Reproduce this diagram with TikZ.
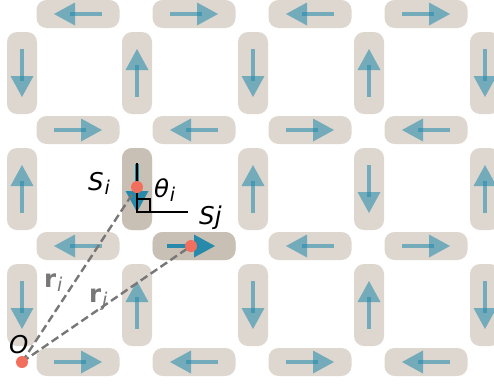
\documentclass[tikz,border=0pt]{standalone}
\usepackage{fontspec}
\newfontfamily\dv{DejaVu Sans}
\definecolor{barc}{HTML}{DDD7D0}
\definecolor{barhi}{HTML}{C9C0B5}
\definecolor{arrc}{HTML}{1F88AB}
\definecolor{dotc}{HTML}{F26F5E}
\definecolor{dashc}{HTML}{777777}
\tikzset{
  hbar/.style={rectangle, rounded corners=10pt, fill=barc, minimum width=83pt, minimum height=28pt, inner sep=0pt},
  vbar/.style={rectangle, rounded corners=10pt, fill=barc, minimum width=30pt, minimum height=82pt, inner sep=0pt},
  hibar/.style={fill=barhi},
  lbl/.style={inner sep=0pt, anchor=base west, font=\dv\fontsize{24.5}{24.5}\selectfont},
  posline/.style={dashc, line width=2.4pt, dash pattern=on 8pt off 4pt},
  spinline/.style={black, line width=2.5pt},
  dot/.style={circle, fill=dotc, minimum size=12pt, inner sep=0pt},
}
\newcommand{\subtxt}[1]{\kern0.8pt\raisebox{-4pt}{\fontsize{19}{19}\selectfont\mdseries\itshape #1}}
\newcommand{\spinarrow}[5]{% cx cy dx dy opacity
  \fill[arrc, opacity=#5] ({#1-24*(#3)+2.25*(#4)},{#2-24*(#4)-2.25*(#3)}) -- ({#1+8*(#3)+2.25*(#4)},{#2+8*(#4)-2.25*(#3)}) -- ({#1+8*(#3)-2.25*(#4)},{#2+8*(#4)+2.25*(#3)}) -- ({#1-24*(#3)-2.25*(#4)},{#2-24*(#4)+2.25*(#3)}) -- cycle;
  \fill[arrc, opacity=#5] ({#1+3*(#3)-11.5*(#4)},{#2+3*(#4)+11.5*(#3)}) -- ({#1+24*(#3)},{#2+24*(#4)}) -- ({#1+3*(#3)+11.5*(#4)},{#2+3*(#4)-11.5*(#3)}) -- cycle;
}
\begin{document}
\begin{tikzpicture}[x=1pt, y=-1pt]
\useasboundingbox (0,0) rectangle (494,383);
\clip (0,0) rectangle (494,383);
% horizontal bars
\foreach \r/\y in {1/14, 2/130, 3/246, 4/362}{
  \foreach \c/\x in {1/78, 2/194, 3/310, 4/426}{
    \node[hbar] (h-\r-\c) at (\x,\y) {};
  }
}
% vertical bars
\foreach \r/\y in {1/73, 2/189, 3/305}{
  \foreach \c/\x in {1/22, 2/137, 3/253, 4/369, 5/485}{
    \node[vbar] (v-\r-\c) at (\x,\y) {};
  }
}
\node[hbar, hibar] (hHi) at (194,246) {};
\node[vbar, hibar] (vHi) at (137,189) {};
% horizontal arrows
\foreach \x/\y/\d in {78/14/-1, 194/14/1, 310/14/-1, 426/14/1,
                      78/130/1, 194/130/-1, 310/130/1, 426/130/-1,
                      78/246/-1, 310/246/-1, 426/246/1,
                      78/362/1, 194/362/-1, 310/362/1, 426/362/-1}{
  \spinarrow{\x}{\y}{\d}{0}{0.55}
}
% vertical arrows
\foreach \x/\y/\d in {22/73/1, 137/73/-1, 253/73/1, 369/73/-1, 485/73/1,
                      22/189/-1, 253/189/-1, 369/189/1, 485/189/-1,
                      22/305/1, 137/305/-1, 253/305/1, 369/305/-1, 485/305/1}{
  \spinarrow{\x}{\y}{0}{\d}{0.55}
}
% highlighted arrows
\spinarrow{191}{246}{1}{0}{0.95}
\spinarrow{137}{188}{0}{1}{0.95}
% coordinates
\coordinate (O) at (22,362);
\coordinate (Pi) at (137,187);
\coordinate (Pj) at (191,246);
\coordinate (Stop) at (137,163);
\coordinate (C) at (137,212);
\coordinate (Send) at (188,212);
% position vectors
\draw[posline] (O) -- (Pi);
\draw[posline] (O) -- (Pj);
% spin lines and right angle
\draw[spinline] (Stop) -- (C) -- (Send);
\draw[black, line width=1.8pt] (137,199) -- (150,199) -- (150,212);
% dots
\node[dot] (dO) at (O) {};
\node[dot] (dPi) at (Pi) {};
\node[dot] (dPj) at (Pj) {};
% labels
\node[lbl] (lSi) at (88,190) {\itshape S\subtxt{i}};
\node[lbl] (lth) at (154,197) {\itshape θ\subtxt{i}};
\node[lbl] (lSj) at (199,224) {\itshape Sj};
\node[lbl, text=dashc] (lri) at (44,287) {\bfseries r\subtxt{i}};
\node[lbl, text=dashc] (lrj) at (89,302) {\bfseries r\subtxt{j}};
\node[lbl] (lO) at (9,353) {\itshape O};
\end{tikzpicture}
\end{document}
